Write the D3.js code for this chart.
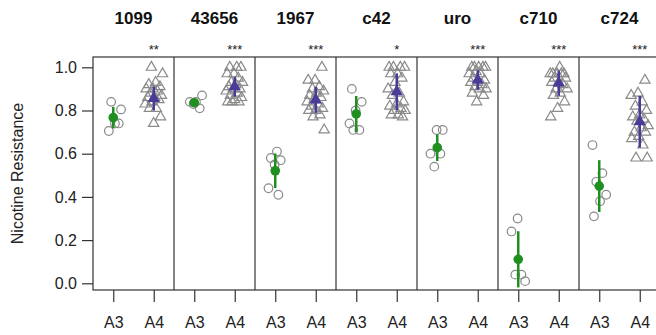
<!DOCTYPE html>
<html>
<head>
<meta charset="utf-8">
<script src="https://cdn.jsdelivr.net/npm/d3@7/dist/d3.min.js"></script>
<style>
  html, body { margin: 0; padding: 0; background: #fff; }
  svg { display: block; font-family: "Liberation Sans", Arial, Helvetica, sans-serif; }
</style>
</head>
<body>
<svg id="chart" width="656" height="335"></svg>
<script>
// Strains shown as panels, with the significance marks above the A4 group
const strains = ["1099", "43656", "1967", "c42", "uro", "c710", "c724"];
const signif = ["**", "***", "***", "*", "***", "***", "***"];
const groups = ["A3", "A4"];
const yTicks = [0, 0.2, 0.4, 0.6, 0.8, 1.0];

// Individual replicate measurements, one list per strain
const a3Values = [
  [0.84, 0.805, 0.74, 0.705, 0.74],
  [0.87, 0.84, 0.84, 0.81, 0.83],
  [0.61, 0.58, 0.57, 0.55, 0.44, 0.41],
  [0.90, 0.84, 0.80, 0.74, 0.71, 0.71],
  [0.71, 0.71, 0.60, 0.60, 0.54],
  [0.30, 0.24, 0.04, 0.04, 0.01],
  [0.64, 0.51, 0.47, 0.41, 0.38, 0.31]
];
const a4Values = [
  [1.0, 0.97, 0.93, 0.92, 0.91, 0.90, 0.90, 0.89, 0.88, 0.87, 0.86, 0.86, 0.85, 0.84, 0.83, 0.81, 0.81, 0.77, 0.74],
  [1.0, 1.0, 1.0, 0.97, 0.97, 0.95, 0.93, 0.93, 0.92, 0.91, 0.90, 0.90, 0.89, 0.88, 0.87, 0.86, 0.85, 0.84, 0.84, 0.84],
  [1.0, 0.94, 0.94, 0.91, 0.90, 0.89, 0.88, 0.87, 0.86, 0.85, 0.84, 0.83, 0.82, 0.81, 0.80, 0.80, 0.78, 0.77, 0.71],
  [1.0, 1.0, 1.0, 1.0, 0.97, 0.97, 0.95, 0.93, 0.90, 0.88, 0.87, 0.84, 0.83, 0.82, 0.81, 0.80, 0.80, 0.78, 0.78, 0.77],
  [1.0, 1.0, 1.0, 1.0, 1.0, 0.98, 0.97, 0.97, 0.95, 0.94, 0.93, 0.93, 0.92, 0.91, 0.90, 0.90, 0.88, 0.87, 0.84],
  [1.0, 0.97, 0.97, 0.97, 0.97, 0.97, 0.95, 0.95, 0.93, 0.93, 0.92, 0.90, 0.90, 0.88, 0.87, 0.84, 0.81, 0.77],
  [0.94, 0.88, 0.87, 0.84, 0.82, 0.80, 0.78, 0.77, 0.76, 0.75, 0.73, 0.72, 0.70, 0.70, 0.68, 0.67, 0.64, 0.58, 0.58]
];

// Group means and half-widths of the error bars
const a3Mean = [0.767, 0.836, 0.521, 0.784, 0.628, 0.111, 0.450];
const a3Err  = [0.050, 0.015, 0.080, 0.083, 0.062, 0.130, 0.120];
const a4Mean = [0.856, 0.910, 0.849, 0.887, 0.941, 0.926, 0.748];
const a4Err  = [0.055, 0.046, 0.060, 0.085, 0.045, 0.058, 0.120];

const svg = d3.select("#chart");
const plotLeft = 93, plotTop = 57, plotBottom = 290, panelW = 81;

const y = d3.scaleLinear().domain([0, 1]).range([283.3, 67.3]);
const panelX = d3.scaleBand().domain(strains).range([plotLeft, plotLeft + panelW * strains.length]).padding(0);
const inner = d3.scaleLinear().domain([0.5, 2.5]).range([0, panelW]);
const xPos = (strain, grp) => panelX(strain) + inner(groups.indexOf(grp) + 1);

// deterministic spread so overlapping replicates stay visible
const spread = (i, w) => ((((i * 0.6180339887 + 0.37) % 1) * 2) - 1) * w;

// triangle path centred on its centroid (like R's pch 2)
function tri(R) {
  const r = 1.555 * R, xc = 1.347 * R, yc = 0.778 * R;
  return `M0,${-r}L${xc},${yc}L${-xc},${yc}Z`;
}

const pointCol = "#8a8a8a";
const green = "#1f8f1f";
const purple = "#4b3b98";

// panel frames
const frame = svg.append("g");
frame.append("rect")
  .attr("x", plotLeft).attr("y", plotTop)
  .attr("width", panelW * strains.length).attr("height", plotBottom - plotTop)
  .attr("fill", "none").attr("stroke", "#333").attr("stroke-width", 1.2);
strains.slice(1).forEach(s => {
  frame.append("line")
    .attr("x1", panelX(s)).attr("x2", panelX(s))
    .attr("y1", plotTop).attr("y2", plotBottom)
    .attr("stroke", "#333").attr("stroke-width", 1.2);
});

// y axis
const yAxis = d3.axisLeft(y).tickValues(yTicks).tickFormat(d3.format(".1f")).tickSize(11).tickPadding(5);
const ya = svg.append("g").attr("transform", `translate(${plotLeft},0)`).call(yAxis);
ya.select(".domain").remove();
ya.selectAll(".tick line").attr("stroke", "#333").attr("stroke-width", 1.2);
ya.selectAll(".tick text").attr("font-size", 16).attr("fill", "#222")
  .attr("font-family", "'Liberation Sans', Arial, sans-serif");

svg.append("text")
  .attr("transform", `translate(23,${(plotTop + plotBottom) / 2}) rotate(-90)`)
  .attr("text-anchor", "middle")
  .attr("font-size", 16).attr("fill", "#222")
  .text("Nicotine Resistance");

strains.forEach((s, k) => {
  // x axis ticks per panel
  const xa = d3.axisBottom(d3.scaleOrdinal().domain(groups).range(groups.map(gr => xPos(s, gr))))
    .tickSize(12).tickPadding(15);
  const ax = svg.append("g").attr("transform", `translate(0,${plotBottom})`).call(xa);
  ax.select(".domain").remove();
  ax.selectAll(".tick line").attr("stroke", "#333").attr("stroke-width", 1.2);
  ax.selectAll(".tick text").attr("font-size", 16).attr("fill", "#222")
    .attr("font-family", "'Liberation Sans', Arial, sans-serif");

  // strain title
  svg.append("text")
    .attr("x", panelX(s) + panelW / 2).attr("y", 24)
    .attr("text-anchor", "middle").attr("font-size", 17).attr("font-weight", "bold")
    .attr("fill", "#111").text(s);

  // significance stars
  svg.append("text")
    .attr("x", xPos(s, "A4")).attr("y", 54)
    .attr("text-anchor", "middle").attr("font-size", 13).attr("fill", "#222")
    .text(signif[k]);

  const pg = svg.append("g");

  // A3 replicates: open circles
  pg.selectAll(null).data(a3Values[k]).enter().append("circle")
    .attr("cx", (d, i) => xPos(s, "A3") + spread(i + k, 8))
    .attr("cy", d => y(d))
    .attr("r", 4.3)
    .attr("fill", "none").attr("stroke", pointCol).attr("stroke-width", 1.2);

  // A4 replicates: open triangles
  pg.selectAll(null).data(a4Values[k]).enter().append("path")
    .attr("d", tri(3.8))
    .attr("transform", (d, i) => `translate(${xPos(s, "A4") + spread(i + 2 * k, 9)},${y(d)})`)
    .attr("fill", "none").attr("stroke", pointCol).attr("stroke-width", 1.2);

  // error bars and means
  pg.append("line")
    .attr("x1", xPos(s, "A3")).attr("x2", xPos(s, "A3"))
    .attr("y1", y(a3Mean[k] - a3Err[k])).attr("y2", y(a3Mean[k] + a3Err[k]))
    .attr("stroke", green).attr("stroke-width", 2.5);
  pg.append("circle")
    .attr("cx", xPos(s, "A3")).attr("cy", y(a3Mean[k])).attr("r", 4.8)
    .attr("fill", green);

  pg.append("line")
    .attr("x1", xPos(s, "A4")).attr("x2", xPos(s, "A4"))
    .attr("y1", y(a4Mean[k] - a4Err[k])).attr("y2", y(a4Mean[k] + a4Err[k]))
    .attr("stroke", purple).attr("stroke-width", 2.5);
  pg.append("path")
    .attr("d", tri(4.6))
    .attr("transform", `translate(${xPos(s, "A4")},${y(a4Mean[k])})`)
    .attr("fill", purple);
});
</script>
</body>
</html>
